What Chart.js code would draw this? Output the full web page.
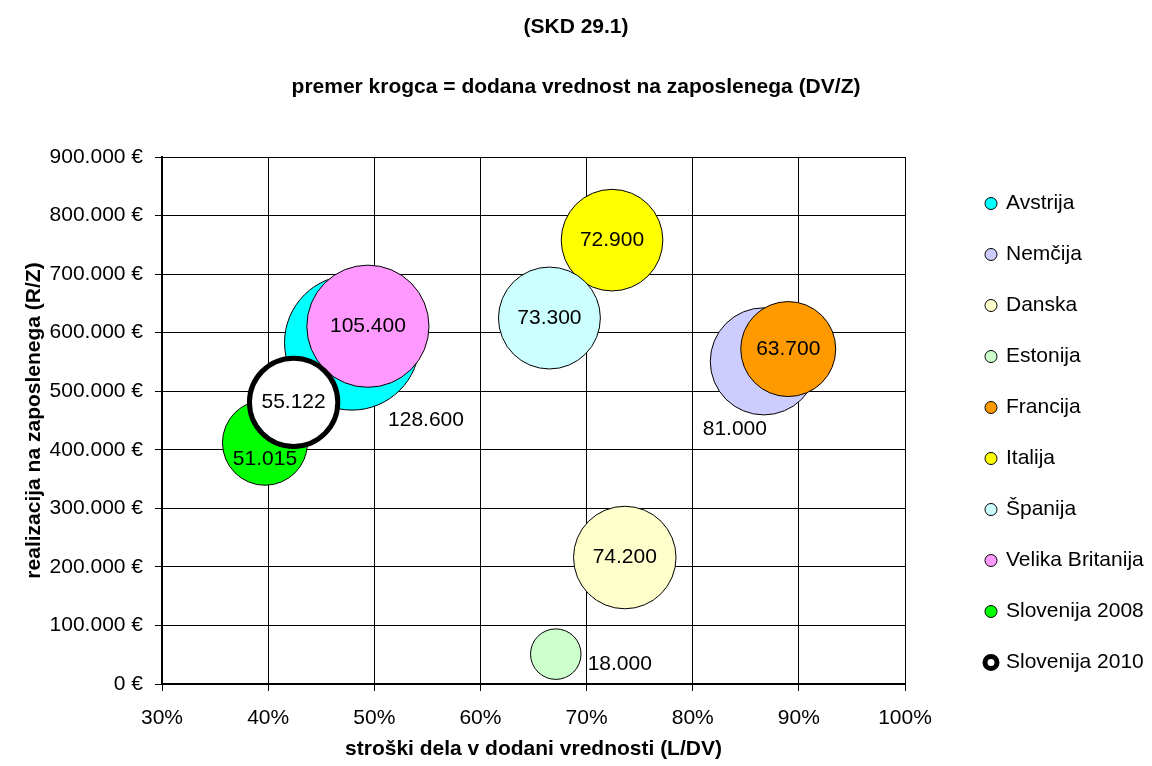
<!DOCTYPE html>
<html>
<head>
<meta charset="utf-8">
<script src="https://cdn.jsdelivr.net/npm/chart.js@4.4.1/dist/chart.umd.min.js"></script>
<style>
  body { margin: 0; background: #fff; }
</style>
</head>
<body>
<canvas id="chart" width="1152" height="766"></canvas>
<script>
// podatki (SKD 29.1)
const countries = ['Avstrija', 'Nemčija', 'Danska', 'Estonija', 'Francija', 'Italija', 'Španija', 'Velika Britanija', 'Slovenija 2008', 'Slovenija 2010'];
const laborShare = [47.9, 86.7, 73.6, 67.1, 89.0, 72.4, 66.5, 49.4, 39.7, 42.4];          // L/DV v %
const revenuePerEmp = [583000, 551000, 216000, 51000, 572000, 758000, 625000, 611000, 412000, 481000]; // R/Z
const valueAddedPerEmp = [128600, 81000, 74200, 18000, 63700, 72900, 73300, 105400, 51015, 55122];  // DV/Z
const yTicks = [0, 100000, 200000, 300000, 400000, 500000, 600000, 700000, 800000, 900000];

const colors = ['#00FFFF', '#CCCCFF', '#FFFFCC', '#CCFFCC', '#FF9900', '#FFFF00', '#CCFFFF', '#FF99FF', '#00FF00', '#FFFFFF'];
// where each value label sits relative to its bubble (px)
const labelShift = [[74, 78], [-29, 68], [0, 0], [64, 10], [0, 0], [0, 0], [0, 0], [0, 0], [0, 16], [0, 0]];

const FONT = '"Liberation Sans", Arial, sans-serif';
const SIZE_K = 5.95; // px radius per sqrt(thousand €)

function fmt(v) {
    return String(v).replace(/\B(?=(\d{3})+(?!\d))/g, '.');
}

var datasets = countries.map((name, i) => ({
    label: name,
    data: [{x: laborShare[i], y: revenuePerEmp[i], r: SIZE_K * Math.sqrt(valueAddedPerEmp[i] / 1000)}],
    backgroundColor: colors[i],
    borderColor: '#000',
    borderWidth: i === 9 ? 5 : 1,
    order: countries.length - i
}));

const bubbleLabels = {
    id: 'bubbleLabels',
    afterDatasetsDraw(chart) {
        const ctx = chart.ctx;
        ctx.save();
        ctx.font = '21px ' + FONT;
        ctx.fillStyle = '#000';
        ctx.textAlign = 'center';
        ctx.textBaseline = 'middle';
        countries.forEach((c, i) => {
            const pt = chart.getDatasetMeta(i).data[0];
            ctx.fillText(fmt(valueAddedPerEmp[i]), pt.x + labelShift[i][0], pt.y + labelShift[i][1]);
        });
        ctx.restore();
    }
};

Chart.defaults.font.family = FONT;
Chart.defaults.color = '#000';

const chart = new Chart(document.getElementById('chart'), {
    type: 'bubble',
    data: {datasets: datasets},
    plugins: [bubbleLabels],
    options: {
        responsive: false,
        animation: false,
        events: [],
        layout: {padding: 0},
        plugins: {
            title: {
                display: true,
                text: '(SKD 29.1)',
                font: {size: 21, weight: 'bold'},
                padding: {top: 15, bottom: 0}
            },
            subtitle: {
                display: true,
                text: 'premer krogca = dodana vrednost na zaposlenega (DV/Z)',
                font: {size: 21, weight: 'bold'},
                color: '#000',
                padding: {top: 34, bottom: 57.6}
            },
            legend: {
                position: 'right',
                align: 'start',
                maxWidth: 195.5,
                title: {display: true, text: ' ', font: {size: 10}, padding: {top: 151, bottom: 0}},
                labels: {
                    usePointStyle: true,
                    pointStyle: 'circle',
                    boxWidth: 9,
                    boxHeight: 8.5,
                    padding: 30,
                    font: {size: 21},
                    color: '#000',
                    sort: (a, b) => a.datasetIndex - b.datasetIndex
                }
            },
            tooltip: {enabled: false}
        },
        scales: {
            x: {
                type: 'linear',
                min: 30,
                max: 100,
                ticks: {stepSize: 10, padding: 15, font: {size: 21}, color: '#000', callback: v => v + '%'},
                grid: {color: '#000', lineWidth: 1, tickLength: 7, tickColor: '#000'},
                border: {color: '#000', width: 2},
                title: {
                    display: true,
                    text: 'stroški dela v dodani vrednosti (L/DV)',
                    font: {size: 21, weight: 'bold'},
                    color: '#000',
                    padding: {top: 0, bottom: 4}
                },
                afterFit: s => { s.height = 82; }
            },
            y: {
                type: 'linear',
                min: 0,
                max: 900000,
                afterBuildTicks: s => { s.ticks = yTicks.map(v => ({value: v})); },
                ticks: {padding: 12, font: {size: 21}, color: '#000', callback: v => fmt(v) + ' €'},
                grid: {color: '#000', lineWidth: 1, tickLength: 7, tickColor: '#000'},
                border: {color: '#000', width: 2},
                title: {
                    display: true,
                    text: 'realizacija na zaposlenega (R/Z)',
                    font: {size: 21, weight: 'bold'},
                    color: '#000',
                    padding: {top: 22, bottom: 0}
                },
                afterFit: s => { s.width = 162; }
            },
            gap: {
                position: 'right',
                display: true,
                grid: {display: false},
                border: {display: false},
                ticks: {display: false},
                afterFit: s => { s.width = 51.5; }
            }
        }
    }
});
</script>
</body>
</html>
